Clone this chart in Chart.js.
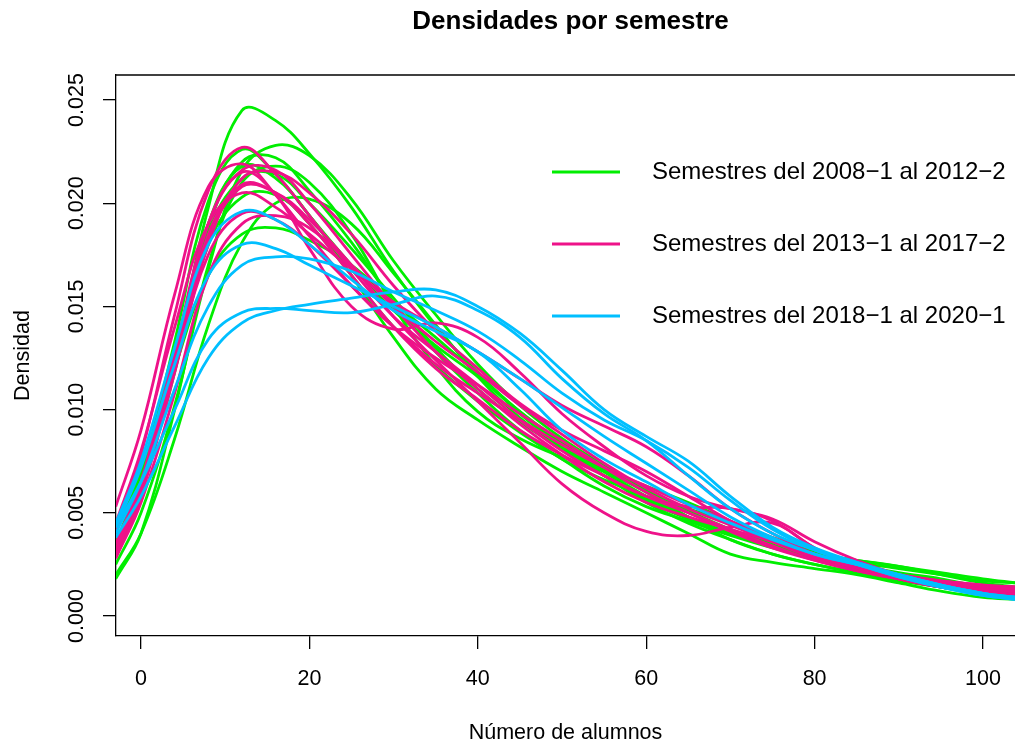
<!DOCTYPE html>
<html>
<head>
<meta charset="utf-8">
<title>Densidades por semestre</title>
<script src="https://cdn.jsdelivr.net/npm/chart.js@4.4.1/dist/chart.umd.min.js"></script>
<style>
  body { margin: 0; background: #fff; }
  #wrap { width: 1015px; height: 742px; }
</style>
</head>
<body>
<div id="wrap"><canvas id="densidades" width="1015" height="742"></canvas></div>
<script>
// puntos de evaluacion de las densidades (numero de alumnos)
const xGrid = [-3, 0, 4, 8, 12, 16, 20, 25, 30, 35, 40, 45, 50, 55, 60, 65, 70, 75, 80, 85, 90, 95, 100, 104];
const xTicks = [0, 20, 40, 60, 80, 100];
const yTicks = [0, 0.005, 0.010, 0.015, 0.020, 0.025];

// densidades, una por semestre
const d2008_1 = [0.0030,0.0060,0.0122,0.0198,0.0245,0.0240,0.0224,0.0198,0.0167,0.0140,0.0118,0.0098,0.0082,0.0070,0.0058,0.0048,0.0040,0.0034,0.0029,0.0025,0.0021,0.0018,0.0014,0.0012];
const d2008_2 = [0.0025,0.0050,0.0102,0.0168,0.0216,0.0228,0.0223,0.0202,0.0172,0.0146,0.0122,0.0102,0.0086,0.0073,0.0061,0.0051,0.0042,0.0035,0.0030,0.0027,0.0024,0.0021,0.0018,0.0016];
const d2009_1 = [0.0035,0.0068,0.0133,0.0201,0.0226,0.0214,0.0194,0.0170,0.0148,0.0131,0.0116,0.0099,0.0084,0.0070,0.0057,0.0048,0.0040,0.0034,0.0030,0.0027,0.0024,0.0020,0.0016,0.0014];
const d2009_2 = [0.0030,0.0060,0.0118,0.0185,0.0212,0.0214,0.0200,0.0178,0.0154,0.0130,0.0110,0.0094,0.0081,0.0068,0.0055,0.0045,0.0037,0.0030,0.0025,0.0021,0.0017,0.0014,0.0011,0.0010];
const d2010_1 = [0.0035,0.0065,0.0120,0.0180,0.0203,0.0204,0.0190,0.0165,0.0140,0.0121,0.0104,0.0089,0.0076,0.0063,0.0053,0.0046,0.0039,0.0033,0.0028,0.0023,0.0018,0.0014,0.0011,0.0009];
const d2010_2 = [0.0020,0.0040,0.0086,0.0141,0.0181,0.0200,0.0202,0.0190,0.0166,0.0141,0.0116,0.0096,0.0081,0.0071,0.0063,0.0055,0.0046,0.0037,0.0030,0.0026,0.0023,0.0020,0.0017,0.0016];
const d2011_1 = [0.0040,0.0070,0.0120,0.0165,0.0185,0.0188,0.0182,0.0170,0.0152,0.0135,0.0117,0.0099,0.0083,0.0068,0.0056,0.0047,0.0040,0.0034,0.0028,0.0023,0.0018,0.0014,0.0011,0.0010];
const d2011_2 = [0.0018,0.0040,0.0100,0.0170,0.0210,0.0218,0.0210,0.0185,0.0150,0.0121,0.0099,0.0086,0.0077,0.0070,0.0060,0.0048,0.0037,0.0030,0.0025,0.0021,0.0018,0.0015,0.0012,0.0011];
const d2012_1 = [0.0030,0.0062,0.0125,0.0190,0.0218,0.0212,0.0194,0.0165,0.0135,0.0110,0.0095,0.0082,0.0070,0.0060,0.0050,0.0040,0.0030,0.0026,0.0023,0.0020,0.0016,0.0012,0.0009,0.0008];
const d2012_2 = [0.0033,0.0063,0.0122,0.0188,0.0220,0.0222,0.0206,0.0181,0.0152,0.0128,0.0108,0.0090,0.0076,0.0066,0.0058,0.0052,0.0045,0.0038,0.0031,0.0025,0.0020,0.0016,0.0013,0.0012];

const d2013_1 = [0.0040,0.0078,0.0146,0.0206,0.0227,0.0214,0.0194,0.0168,0.0145,0.0128,0.0112,0.0095,0.0080,0.0068,0.0058,0.0050,0.0042,0.0034,0.0027,0.0022,0.0018,0.0015,0.0013,0.0012];
const d2013_2 = [0.0053,0.0090,0.0156,0.0208,0.0219,0.0204,0.0184,0.0160,0.0140,0.0125,0.0112,0.0098,0.0085,0.0072,0.0060,0.0050,0.0041,0.0033,0.0027,0.0022,0.0019,0.0016,0.0014,0.0013];
const d2014_1 = [0.0032,0.0065,0.0128,0.0190,0.0216,0.0216,0.0200,0.0175,0.0150,0.0128,0.0110,0.0093,0.0078,0.0065,0.0055,0.0048,0.0042,0.0036,0.0029,0.0023,0.0018,0.0015,0.0013,0.0012];
const d2014_2 = [0.0030,0.0063,0.0125,0.0185,0.0209,0.0205,0.0190,0.0165,0.0140,0.0120,0.0105,0.0090,0.0078,0.0068,0.0058,0.0053,0.0052,0.0046,0.0033,0.0023,0.0018,0.0014,0.0012,0.0011];
const d2015_1 = [0.0035,0.0065,0.0120,0.0175,0.0195,0.0192,0.0180,0.0160,0.0140,0.0122,0.0108,0.0095,0.0083,0.0072,0.0063,0.0054,0.0046,0.0038,0.0030,0.0024,0.0019,0.0016,0.0014,0.0013];
const d2015_2 = [0.0028,0.0055,0.0108,0.0165,0.0190,0.0194,0.0188,0.0170,0.0150,0.0133,0.0118,0.0102,0.0088,0.0074,0.0062,0.0052,0.0044,0.0036,0.0029,0.0024,0.0020,0.0017,0.0015,0.0014];
const d2016_1 = [0.0032,0.0062,0.0122,0.0182,0.0208,0.0205,0.0192,0.0170,0.0145,0.0124,0.0104,0.0084,0.0064,0.0050,0.0041,0.0039,0.0043,0.0045,0.0033,0.0024,0.0018,0.0014,0.0011,0.0010];
const d2016_2 = [0.0030,0.0062,0.0125,0.0190,0.0215,0.0204,0.0178,0.0150,0.0139,0.0142,0.0135,0.0118,0.0098,0.0082,0.0068,0.0058,0.0052,0.0047,0.0036,0.0027,0.0020,0.0015,0.0012,0.0011];
const d2017_1 = [0.0028,0.0058,0.0118,0.0180,0.0212,0.0215,0.0205,0.0185,0.0160,0.0138,0.0120,0.0103,0.0090,0.0080,0.0070,0.0058,0.0046,0.0036,0.0028,0.0022,0.0018,0.0015,0.0013,0.0012];
const d2017_2 = [0.0045,0.0080,0.0140,0.0190,0.0205,0.0198,0.0185,0.0168,0.0152,0.0140,0.0128,0.0115,0.0102,0.0092,0.0082,0.0068,0.0052,0.0040,0.0030,0.0024,0.0020,0.0017,0.0015,0.0014];

const d2018_1 = [0.0045,0.0075,0.0130,0.0180,0.0196,0.0192,0.0180,0.0163,0.0148,0.0138,0.0128,0.0110,0.0090,0.0076,0.0065,0.0054,0.0045,0.0037,0.0030,0.0025,0.0019,0.0014,0.0010,0.0008];
const d2018_2 = [0.0043,0.0072,0.0122,0.0165,0.0180,0.0178,0.0170,0.0160,0.0150,0.0140,0.0128,0.0115,0.0101,0.0087,0.0074,0.0061,0.0048,0.0038,0.0030,0.0025,0.0020,0.0015,0.0011,0.0009];
const d2019_1 = [0.0040,0.0065,0.0110,0.0150,0.0170,0.0174,0.0173,0.0167,0.0157,0.0148,0.0138,0.0124,0.0108,0.0095,0.0085,0.0072,0.0056,0.0042,0.0032,0.0025,0.0019,0.0014,0.0010,0.0008];
const d2019_2 = [0.0043,0.0065,0.0100,0.0134,0.0147,0.0149,0.0148,0.0147,0.0151,0.0155,0.0148,0.0135,0.0115,0.0098,0.0085,0.0068,0.0052,0.0040,0.0032,0.0026,0.0020,0.0015,0.0011,0.0009];
const d2020_1 = [0.0038,0.0058,0.0092,0.0125,0.0142,0.0148,0.0151,0.0154,0.0157,0.0158,0.0150,0.0137,0.0119,0.0100,0.0087,0.0075,0.0058,0.0043,0.0033,0.0026,0.0020,0.0015,0.0011,0.0009];

const grupo1 = [d2008_1, d2008_2, d2009_1, d2009_2, d2010_1, d2010_2, d2011_1, d2011_2, d2012_1, d2012_2];
const grupo2 = [d2013_1, d2013_2, d2014_1, d2014_2, d2015_1, d2015_2, d2016_1, d2016_2, d2017_1, d2017_2];
const grupo3 = [d2018_1, d2018_2, d2019_1, d2019_2, d2020_1];

const etiquetas = ["Semestres del 2008\u22121 al 2012\u22122", "Semestres del 2013\u22121 al 2017\u22122", "Semestres del 2018\u22121 al 2020\u22121"];
const colores = ["#00EE00", "#EE1289", "#00BFFF"];

const fuente = '"Liberation Sans", Arial, Helvetica, sans-serif';

const datasets = [];
[grupo1, grupo2, grupo3].forEach((grupo, g) => {
    grupo.forEach(curva => {
        datasets.push({
            data: curva.map((y, i) => ({x: xGrid[i], y: y})),
            borderColor: colores[g],
            borderWidth: 2.8,
            pointRadius: 0,
            tension: 0.4,
            fill: false,
            order: 2 - g
        });
    });
});

// marco superior, leyenda y centrado del titulo como en R
const marcoPlugin = {
    id: 'marco',
    afterLayout(chart) {
        const a = chart.chartArea;
        if (chart.titleBlock) {
            chart.titleBlock.left = a.left;
            chart.titleBlock.right = 1141 - a.left;
        }
    },
    afterDatasetsDraw(chart) {
        const ctx = chart.ctx, a = chart.chartArea;
        ctx.save();
        ctx.strokeStyle = '#000';
        ctx.lineWidth = 1.3;
        ctx.beginPath();
        ctx.moveTo(a.left, a.top);
        ctx.lineTo(a.right + 2, a.top);
        ctx.stroke();

        ctx.font = '24px ' + fuente;
        ctx.textBaseline = 'middle';
        ctx.textAlign = 'left';
        etiquetas.forEach((t, i) => {
            const y = 172 + i * 72;
            ctx.strokeStyle = colores[i];
            ctx.lineWidth = 3;
            ctx.beginPath();
            ctx.moveTo(552, y);
            ctx.lineTo(620, y);
            ctx.stroke();
            ctx.fillStyle = '#000';
            ctx.fillText(t, 652, y);
        });
        ctx.restore();
    }
};

new Chart("densidades", {
    type: "line",
    data: { datasets: datasets },
    plugins: [marcoPlugin],
    options: {
        responsive: false,
        animation: false,
        layout: { padding: 0 },
        plugins: {
            legend: { display: false },
            tooltip: { enabled: false },
            title: {
                display: true,
                text: "Densidades por semestre",
                color: '#000',
                font: { family: fuente, size: 26, weight: 'bold', lineHeight: 1.2 },
                padding: { top: 6, bottom: 37.8 }
            }
        },
        scales: {
            x: {
                type: 'linear',
                min: -2.969,
                max: 103.8,
                afterBuildTicks: s => { s.ticks = xTicks.map(v => ({value: v})); },
                afterFit: s => { s.height = 106; s.paddingLeft = 0; s.paddingRight = 0; },
                grid: { drawOnChartArea: false, drawTicks: true, tickLength: 13, color: '#000', lineWidth: 1.3 },
                border: { display: true, color: '#000', width: 1.3 },
                ticks: { color: '#000', font: { family: fuente, size: 21.5 }, padding: 17, maxRotation: 0, autoSkip: false },
                title: { display: true, text: "Número de alumnos", color: '#000', font: { family: fuente, size: 21.5, lineHeight: 1 }, padding: { top: 0, bottom: -2 } }
            },
            y: {
                type: 'linear',
                min: -0.000969,
                max: 0.026211,
                afterBuildTicks: s => { s.ticks = yTicks.map(v => ({value: v})); },
                afterFit: s => { s.width = 116; s.paddingTop = 0; s.paddingBottom = 0; },
                grid: { drawOnChartArea: false, drawTicks: true, tickLength: 13, color: '#000', lineWidth: 1.3 },
                border: { display: true, color: '#000', width: 1.3 },
                ticks: {
                    color: '#000',
                    font: { family: fuente, size: 21.5 },
                    minRotation: 90,
                    maxRotation: 90,
                    crossAlign: 'center',
                    padding: -1,
                    autoSkip: false,
                    callback: v => v.toFixed(3)
                },
                title: { display: true, text: "Densidad", color: '#000', font: { family: fuente, size: 21.5 }, padding: { top: 10, bottom: 0 } }
            }
        }
    }
});
</script>
</body>
</html>
